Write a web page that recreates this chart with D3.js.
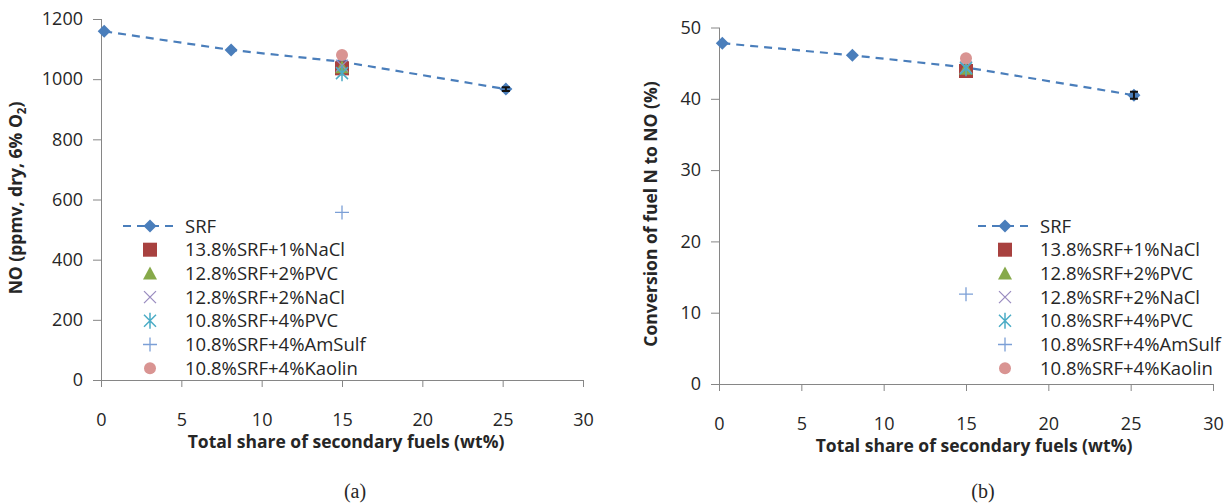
<!DOCTYPE html>
<html><head><meta charset="utf-8">
<script src="https://cdn.jsdelivr.net/npm/d3@7"></script>
<style>
body{margin:0;background:#fff;}
svg{display:block;}
text{font-family:"Open Sans",sans-serif;fill:#262626;}
</style></head>
<body>
<svg id="chart" width="1231" height="504"></svg>
<script>
// ---- data ----
const xTicks = [0, 5, 10, 15, 20, 25, 30];
const noTicks = [0, 200, 400, 600, 800, 1000, 1200];
const convTicks = [0, 10, 20, 30, 40, 50];

const srfX = [0.2, 8.1, 15, 25.2];
const srfNO = [1159, 1097, 1058, 967];
const srfNOErr = [0, 0, 0, 6];
const srfConv = [47.8, 46.1, 44.4, 40.5];
const srfConvErr = [0, 0, 0, 0.5];

const mixNames = ["13.8%SRF+1%NaCl", "12.8%SRF+2%PVC", "12.8%SRF+2%NaCl", "10.8%SRF+4%PVC", "10.8%SRF+4%AmSulf", "10.8%SRF+4%Kaolin"];
const mixX = [15, 15, 15, 15, 15, 15];
const mixNO = [1036, 1040, 1045, 1020, 557, 1080];
const mixConv = [43.9, 44.2, 44.4, 44.3, 12.6, 45.7];
const mixConvErr = [0.6, 0, 0, 0, 0, 0];
const mixSymbols = ["square", "triangle", "x", "asterisk", "plus", "circle"];
const mixColors = ["#a8413f", "#86a94a", "#9a8cc0", "#4bacc6", "#7b9fd6", "#d99492"];

const srfName = "SRF";
const srfColor = "#4a7ebb";

const svg = d3.select("#chart");

function drawSymbol(g, type, color, cx, cy) {
  if (type === "square") {
    g.append("rect").attr("x", cx - 7).attr("y", cy - 7).attr("width", 14).attr("height", 14).attr("fill", color);
  } else if (type === "triangle") {
    g.append("path").attr("d", `M${cx},${cy-7}L${cx+7},${cy+6}L${cx-7},${cy+6}Z`).attr("fill", color);
  } else if (type === "x") {
    g.append("path").attr("d", `M${cx-6},${cy-6}L${cx+6},${cy+6}M${cx-6},${cy+6}L${cx+6},${cy-6}`).attr("stroke", color).attr("stroke-width", 1.3).attr("fill", "none");
  } else if (type === "asterisk") {
    g.append("path").attr("d", `M${cx-6},${cy-6}L${cx+6},${cy+6}M${cx-6},${cy+6}L${cx+6},${cy-6}M${cx},${cy-8}L${cx},${cy+8}`).attr("stroke", color).attr("stroke-width", 1.5).attr("fill", "none");
  } else if (type === "plus") {
    g.append("path").attr("d", `M${cx-7},${cy}L${cx+7},${cy}M${cx},${cy-7}L${cx},${cy+7}`).attr("stroke", color).attr("stroke-width", 1.3).attr("fill", "none");
  } else if (type === "circle") {
    g.append("circle").attr("cx", cx).attr("cy", cy).attr("r", 6).attr("fill", color);
  } else if (type === "diamond") {
    g.append("path").attr("d", `M${cx},${cy-6.5}L${cx+6.5},${cy}L${cx},${cy+6.5}L${cx-6.5},${cy}Z`).attr("fill", color);
  }
}

function panel(cfg) {
  const x = d3.scaleLinear().domain([0, 30]).range([cfg.x0, cfg.x1]);
  const y = d3.scaleLinear().domain([0, cfg.ymax]).range([cfg.y0, cfg.y1]);
  const g = svg.append("g");

  // axes
  const ax = g.append("g").attr("transform", `translate(0,${cfg.y0})`)
    .call(d3.axisBottom(x).tickValues(xTicks).tickFormat(d3.format("d")).tickSize(7).tickPadding(26));
  ax.select(".domain").attr("d", `M${cfg.x0 - 8},0.5H${cfg.x1}`);
  const ay = g.append("g").attr("transform", `translate(${cfg.x0},0)`)
    .call(d3.axisLeft(y).tickValues(cfg.yTicks).tickFormat(d3.format("d")).tickSize(8).tickPadding(10));
  ay.select(".domain").attr("d", `M0.5,${cfg.y1}V${cfg.y0}`);
  g.selectAll(".domain").attr("stroke", "#868686").attr("stroke-width", 1);
  g.selectAll(".tick line").attr("stroke", "#868686");
  g.selectAll(".tick text").attr("font-size", 18).attr("fill", "#262626").style("font-family", "'Open Sans', sans-serif");

  // titles
  g.append("text").attr("x", (cfg.x0 + cfg.x1) / 2 + cfg.xtOff).attr("y", cfg.y0 + 68)
    .attr("text-anchor", "middle").attr("font-size", 17.5).attr("font-weight", "bold").text("Total share of secondary fuels (wt%)");
  const yt = g.append("text").attr("transform", `translate(${cfg.ytX},${cfg.ytY}) rotate(-90)`)
    .attr("text-anchor", "middle").attr("font-size", 17.5).attr("font-weight", "bold");
  cfg.ytitle(yt);

  // caption
  g.append("text").attr("x", cfg.capX).attr("y", 498).attr("text-anchor", "middle")
    .style("font-family", "'Liberation Serif', 'Times New Roman', serif").attr("font-size", 20).attr("fill", "#000").text(cfg.cap);

  // SRF line
  const pts = srfX.map((d, i) => [x(d), y(cfg.srf[i])]);
  g.append("path").attr("d", d3.line()(pts)).attr("fill", "none").attr("stroke", srfColor)
    .attr("stroke-width", 2.2).attr("stroke-dasharray", "8,6");
  pts.forEach(p => drawSymbol(g, "diamond", srfColor, p[0], p[1]));
  // SRF error bars
  srfX.forEach((d, i) => {
    if (cfg.srfErr[i] > 0) {
      const cx = x(d), ya = y(cfg.srf[i] + cfg.srfErr[i]), yb = y(cfg.srf[i] - cfg.srfErr[i]);
      g.append("path").attr("d", `M${cx-4},${ya}H${cx+4}M${cx},${ya}V${yb}M${cx-4},${yb}H${cx+4}`)
        .attr("stroke", "#111").attr("stroke-width", 2).attr("fill", "none");
    }
  });

  // mixtures
  mixNames.forEach((n, i) => {
    const cx = x(mixX[i]), cy = y(cfg.mix[i]);
    if (cfg.mixErr[i] > 0) {
      const ya = y(cfg.mix[i] + cfg.mixErr[i]), yb = y(cfg.mix[i] - cfg.mixErr[i]);
      g.append("path").attr("d", `M${cx-5},${ya}H${cx+5}M${cx},${ya}V${yb}M${cx-5},${yb}H${cx+5}`)
        .attr("stroke", "#111").attr("stroke-width", 2).attr("fill", "none");
    }
    drawSymbol(g, mixSymbols[i], mixColors[i], cx, cy);
  });

  // legend
  const lg = g.append("g");
  const rowY = i => 226 + i * 23.7;
  lg.append("path").attr("d", `M${cfg.legX},${rowY(0)}H${cfg.legX + 52}`).attr("stroke", srfColor)
    .attr("stroke-width", 2.2).attr("stroke-dasharray", "8,6");
  drawSymbol(lg, "diamond", srfColor, cfg.legX + 27, rowY(0));
  lg.append("text").attr("x", cfg.legX + 62).attr("y", rowY(0)).attr("dy", "0.36em").attr("font-size", 18.5).text(srfName);
  mixNames.forEach((n, i) => {
    drawSymbol(lg, mixSymbols[i], mixColors[i], cfg.legX + 27, rowY(i + 1));
    lg.append("text").attr("x", cfg.legX + 62).attr("y", rowY(i + 1)).attr("dy", "0.36em").attr("font-size", 18.5).text(n);
  });
}

panel({
  x0: 101, x1: 583, y0: 380, y1: 19, ymax: 1200, yTicks: noTicks,
  srf: srfNO, srfErr: srfNOErr, mix: mixNO, mixErr: [0, 0, 0, 0, 0, 0],
  xtOff: 4, ytX: 22, ytY: 198, cap: "(a)", capX: 355, legX: 123,
  ytitle: t => {
    t.append("tspan").text("NO (ppmv, dry, 6% O");
    t.append("tspan").attr("font-size", 11.5).attr("dy", 4).text("2");
    t.append("tspan").attr("dy", -4).text(")");
  }
});

panel({
  x0: 719, x1: 1213, y0: 384, y1: 27.5, ymax: 50, yTicks: convTicks,
  srf: srfConv, srfErr: srfConvErr, mix: mixConv, mixErr: mixConvErr,
  xtOff: 8, ytX: 657, ytY: 214, cap: "(b)", capX: 983, legX: 978,
  ytitle: t => t.text("Conversion of fuel N to NO (%)")
});
</script>
</body></html>
